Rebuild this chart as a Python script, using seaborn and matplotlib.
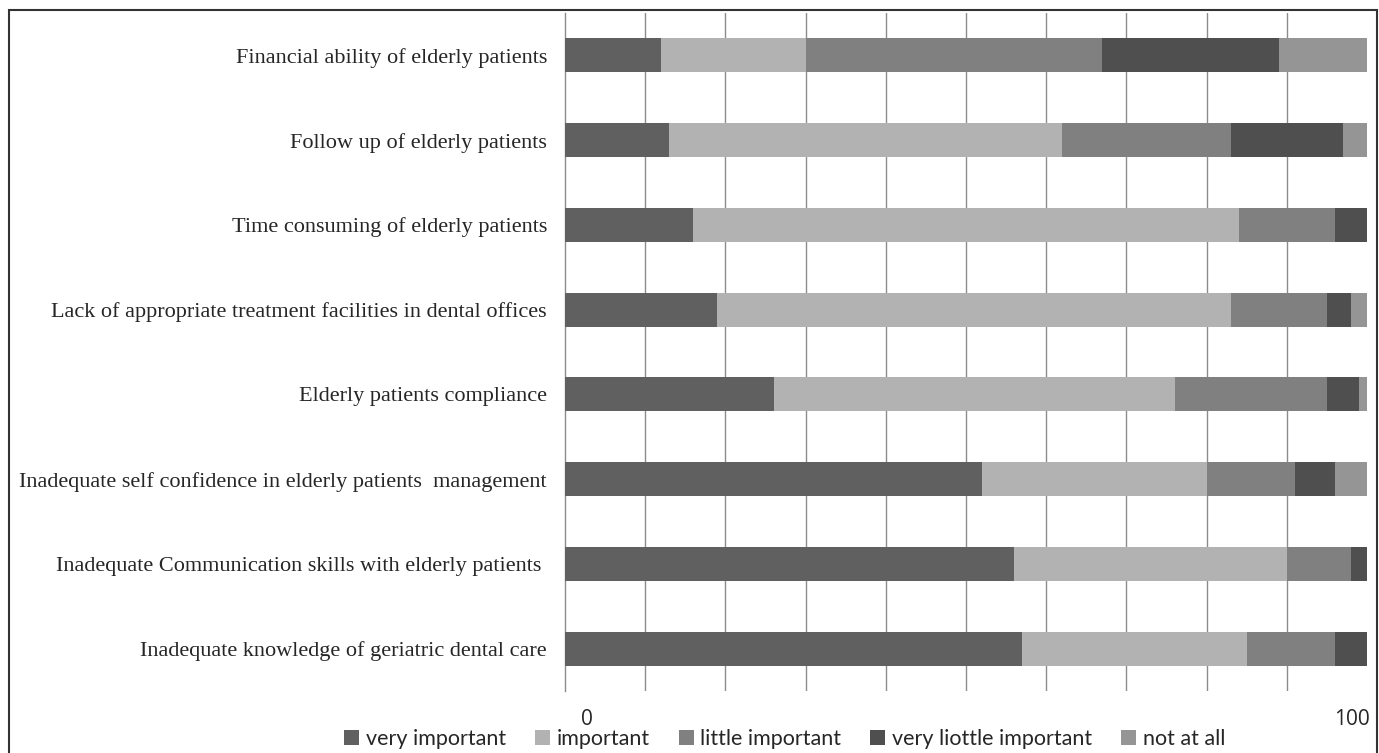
import numpy as np
import pandas as pd
import matplotlib
matplotlib.use("Agg")
import matplotlib.pyplot as plt
import matplotlib.transforms as mtransforms
from matplotlib.patches import Patch, Rectangle
import seaborn as sns

# categories top to bottom
categories = [
    "Financial ability of elderly patients",
    "Follow up of elderly patients",
    "Time consuming of elderly patients",
    "Lack of appropriate treatment facilities in dental offices",
    "Elderly patients compliance",
    "Inadequate self confidence in elderly patients  management",
    "Inadequate Communication skills with elderly patients ",
    "Inadequate knowledge of geriatric dental care",
]

very_important = [12, 13, 16, 19, 26, 52, 56, 57]
important = [18, 49, 68, 64, 50, 28, 34, 28]
little_important = [37, 21, 12, 12, 19, 11, 8, 11]
very_little_important = [22, 14, 4, 3, 4, 5, 2, 4]
not_at_all = [11, 3, 0, 2, 1, 4, 0, 0]

series_names = ["very important", "important", "little important",
                "very liottle important", "not at all"]
series_colors = ["#606060", "#b2b2b2", "#808080", "#4f4f4f", "#959595"]

df = pd.DataFrame({
    "category": categories,
    "very important": very_important,
    "important": important,
    "little important": little_important,
    "very liottle important": very_little_important,
    "not at all": not_at_all,
})

sns.set_style("white")

fig = plt.figure(figsize=(13.79, 7.53), dpi=100)
ax = fig.add_axes([565 / 1379, 1 - 691 / 753, (1367 - 565) / 1379, (691 - 13) / 753])

# stacked bars: draw cumulative totals from the largest down
cum = df[series_names].cumsum(axis=1)
for name, col in reversed(list(zip(series_names, series_colors))):
    sns.barplot(x=cum[name], y=df["category"], orient="h", color=col,
                width=0.4, linewidth=0, ax=ax, zorder=3)

ax.set_xlim(0, 100)
ax.set_ylim(len(categories) - 0.5, -0.5)
ax.set_xlabel("")
ax.set_ylabel("")

# gridlines
ax.set_xticks(np.arange(10, 101, 10), minor=True)
ax.grid(False)
ax.xaxis.grid(True, which="minor", color="#8c8c8c", linewidth=1.0, zorder=0)
ax.tick_params(axis="x", which="minor", length=0)

ax.set_xticks([0, 100])
ax.set_xticklabels(["0", "100"], fontsize=15, family="Open Sans")
ax.tick_params(axis="x", which="major", length=0, pad=13)
offs = [22, -15]
for lab, dx in zip(ax.get_xticklabels(), offs):
    lab.set_transform(lab.get_transform() +
                      mtransforms.ScaledTranslation(dx / 100, 0, fig.dpi_scale_trans))

# y ticks: labels at centers, small marks at category boundaries
ax.set_yticks(np.arange(len(categories)))
ax.set_yticklabels(categories, fontsize=16, family="Liberation Serif")
ax.tick_params(axis="y", which="major", length=0, pad=13)
ax.set_yticks(np.arange(-0.5, len(categories), 1), minor=True)
ax.tick_params(axis="y", which="minor", length=5, color="#8c8c8c", width=1)

for s in ["top", "right", "bottom"]:
    ax.spines[s].set_visible(False)
ax.spines["left"].set_color("#8c8c8c")
ax.spines["left"].set_linewidth(1.0)

handles = [Patch(facecolor=c, edgecolor="none", label=n)
           for n, c in zip(series_names, series_colors)]
fig.legend(handles=handles, loc="lower center", bbox_to_anchor=(0.569, -0.021),
           ncol=5, frameon=False, handlelength=0.7, handleheight=0.7,
           handletextpad=0.3, columnspacing=1.35,
           prop={"family": "Lato", "size": 15.5})

# outer frame
fig.patches.append(Rectangle((9 / 1379, -0.05), (1377 - 9) / 1379, 1.05 - 10 / 753,
                             transform=fig.transFigure, fill=False,
                             edgecolor="#333333", linewidth=1.5))

fig.savefig("out.png", dpi=100)
